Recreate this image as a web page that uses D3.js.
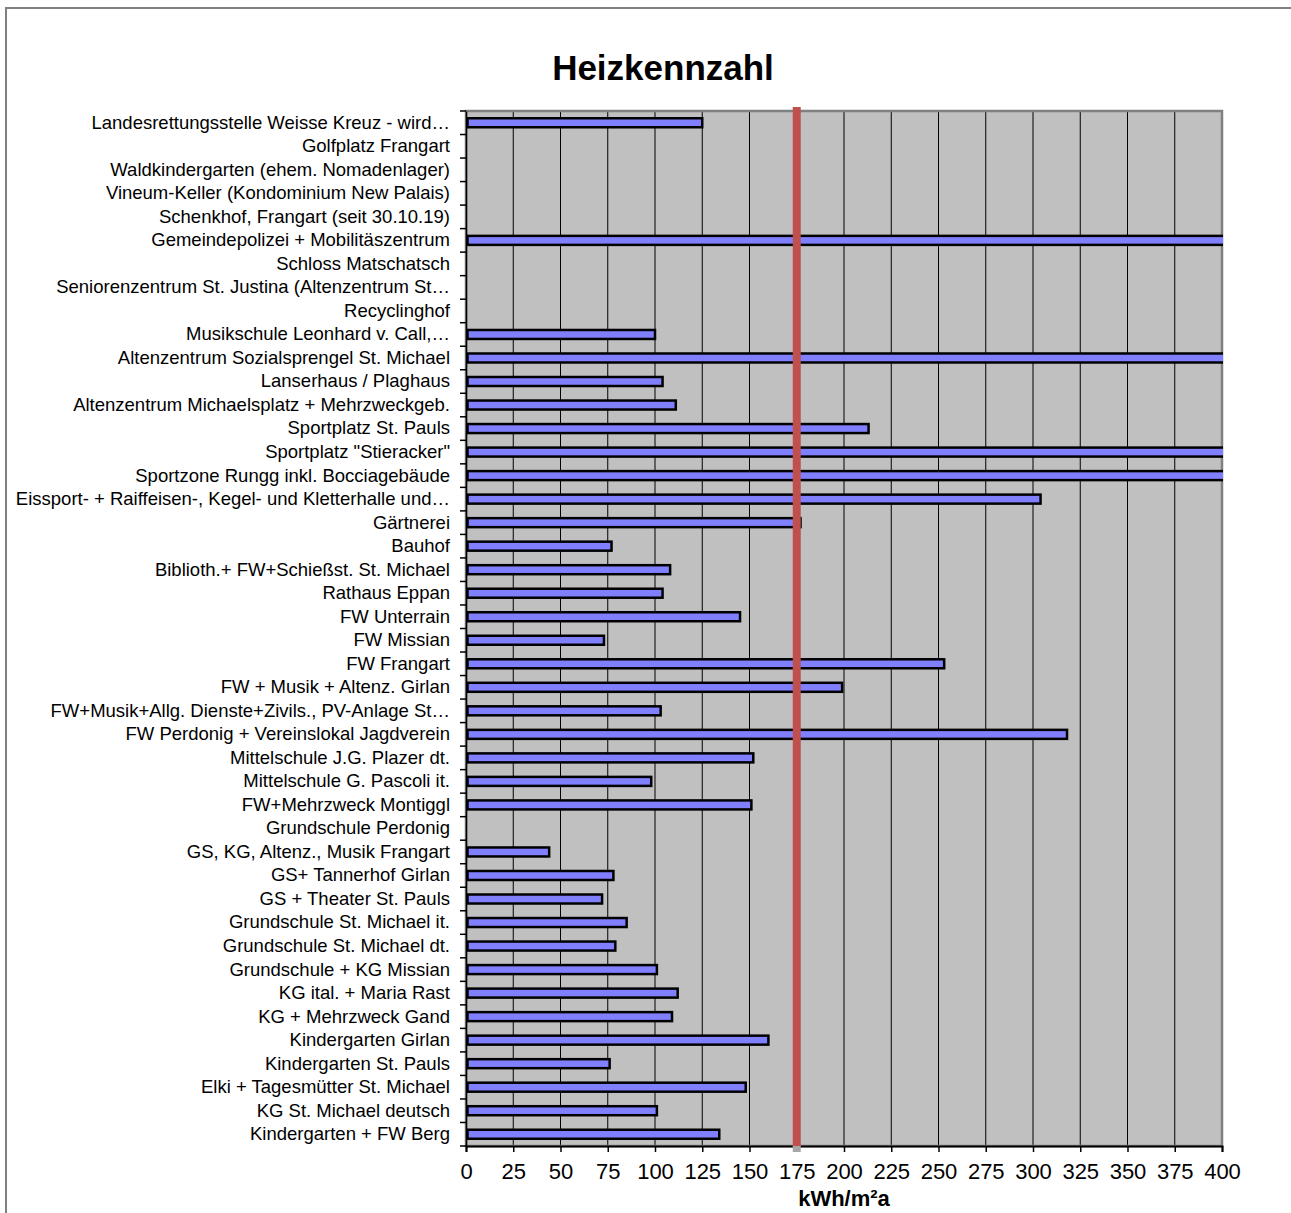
<!DOCTYPE html>
<html>
<head>
<meta charset="utf-8">
<script src="https://cdn.jsdelivr.net/npm/d3@7"></script>
<style>
  html, body { margin: 0; padding: 0; background: #fff; }
  svg { display: block; font-family: "Liberation Sans", Arial, sans-serif; }
</style>
</head>
<body>
<div id="chart"></div>
<script>
"use strict";

// ---------------------------------------------------------------------------
// Data
// ---------------------------------------------------------------------------

const categories = [
  "Landesrettungsstelle Weisse Kreuz - wird…",
  "Golfplatz Frangart",
  "Waldkindergarten (ehem. Nomadenlager)",
  "Vineum-Keller (Kondominium New Palais)",
  "Schenkhof, Frangart (seit 30.10.19)",
  "Gemeindepolizei + Mobilitäszentrum",
  "Schloss Matschatsch",
  "Seniorenzentrum St. Justina (Altenzentrum St…",
  "Recyclinghof",
  "Musikschule Leonhard v. Call,…",
  "Altenzentrum Sozialsprengel St. Michael",
  "Lanserhaus / Plaghaus",
  "Altenzentrum Michaelsplatz + Mehrzweckgeb.",
  "Sportplatz St. Pauls",
  "Sportplatz \"Stieracker\"",
  "Sportzone Rungg inkl. Bocciagebäude",
  "Eissport- + Raiffeisen-, Kegel- und Kletterhalle und…",
  "Gärtnerei",
  "Bauhof",
  "Biblioth.+ FW+Schießst. St. Michael",
  "Rathaus Eppan",
  "FW Unterrain",
  "FW Missian",
  "FW Frangart",
  "FW  + Musik + Altenz. Girlan",
  "FW+Musik+Allg. Dienste+Zivils., PV-Anlage  St…",
  "FW Perdonig + Vereinslokal Jagdverein",
  "Mittelschule J.G. Plazer dt.",
  "Mittelschule G. Pascoli it.",
  "FW+Mehrzweck Montiggl",
  "Grundschule Perdonig",
  "GS, KG, Altenz., Musik Frangart",
  "GS+ Tannerhof Girlan",
  "GS + Theater St. Pauls",
  "Grundschule St. Michael it.",
  "Grundschule St. Michael dt.",
  "Grundschule + KG Missian",
  "KG ital. +  Maria Rast",
  "KG +  Mehrzweck Gand",
  "Kindergarten Girlan",
  "Kindergarten St. Pauls",
  "Elki + Tagesmütter  St. Michael",
  "KG St. Michael deutsch",
  "Kindergarten + FW Berg"
];

// values beyond 400 run off the axis in the original
const values = [
  125, 0, 0, 0, 0, 480, 0, 0, 0, 100,
  470, 104, 111, 213, 520, 450, 304, 177, 77, 108,
  104, 145, 73, 253, 199, 103, 318, 152, 98, 151,
  0, 44, 78, 72, 85, 79, 101, 112, 109, 160,
  76, 148, 101, 134
];

const xTicks = [0, 25, 50, 75, 100, 125, 150, 175, 200, 225, 250, 275, 300, 325, 350, 375, 400];
const limitValue = 175;

// ---------------------------------------------------------------------------
// Layout
// ---------------------------------------------------------------------------

const width = 1291;
const height = 1213;
const margin = { top: 111, right: 69, bottom: 67, left: 466 };
const plotW = width - margin.left - margin.right;
const plotH = height - margin.top - margin.bottom;

const svg = d3.select("#chart")
  .append("svg")
  .attr("width", width)
  .attr("height", height);

// outer chart border
svg.append("rect")
  .attr("x", 6).attr("y", 8)
  .attr("width", width + 20).attr("height", height + 20)
  .attr("fill", "none")
  .attr("stroke", "#808080")
  .attr("stroke-width", 2);

svg.append("text")
  .attr("x", 663).attr("y", 80)
  .attr("text-anchor", "middle")
  .attr("font-size", "35px")
  .attr("font-weight", "bold")
  .text("Heizkennzahl");

const g = svg.append("g")
  .attr("transform", `translate(${margin.left},${margin.top})`);

const x = d3.scaleLinear().domain([0, 400]).range([0, plotW]);
const y = d3.scaleBand().domain(categories).range([0, plotH]);

// plot background
g.append("rect")
  .attr("width", plotW).attr("height", plotH)
  .attr("fill", "#c0c0c0");

// vertical grid lines
g.append("g")
  .selectAll("line")
  .data(xTicks.slice(1, -1))
  .join("line")
  .attr("x1", (d) => x(d)).attr("x2", (d) => x(d))
  .attr("y1", 0).attr("y2", plotH)
  .attr("stroke", "#000")
  .attr("stroke-width", 1);

// plot frame
g.append("rect")
  .attr("width", plotW).attr("height", plotH)
  .attr("fill", "none")
  .attr("stroke", "#808080")
  .attr("stroke-width", 2.5);

// bars
g.append("clipPath").attr("id", "plotclip")
  .append("rect").attr("x", -2).attr("y", 0).attr("width", plotW + 3).attr("height", plotH);

const barH = 9;
g.append("g")
  .attr("clip-path", "url(#plotclip)")
  .selectAll("rect")
  .data(categories.map((c, i) => ({ c, v: values[i] })).filter((d) => d.v > 0))
  .join("rect")
  .attr("x", x(0) + 1.5)
  .attr("y", (d) => y(d.c) + y.bandwidth() / 2 - barH / 2)
  .attr("width", (d) => Math.min(x(d.v), plotW + 10) - 1.5)
  .attr("height", barH)
  .attr("fill", "#8080ff")
  .attr("stroke", "#000")
  .attr("stroke-width", 2.5);

// left axis
const yAxis = g.append("g")
  .call(d3.axisLeft(y).tickSize(0).tickPadding(16));
yAxis.select(".domain").attr("stroke", "#000").attr("stroke-width", 1.5);
yAxis.selectAll("text")
  .attr("font-size", "18.5px")
  .attr("fill", "#000")
  .attr("font-family", "Liberation Sans, Arial, sans-serif");

// tick marks between categories
g.append("g")
  .selectAll("line")
  .data(d3.range(categories.length + 1))
  .join("line")
  .attr("x1", -6).attr("x2", 0)
  .attr("y1", (i) => i * y.step()).attr("y2", (i) => i * y.step())
  .attr("stroke", "#000")
  .attr("stroke-width", 1.5);

// bottom axis
const xAxis = g.append("g")
  .attr("transform", `translate(0,${plotH})`)
  .call(d3.axisBottom(x).tickValues(xTicks).tickSize(6).tickPadding(11).tickFormat(d3.format("d")));
xAxis.select(".domain").attr("stroke", "#000").attr("stroke-width", 2);
xAxis.selectAll("line").attr("stroke", "#000").attr("stroke-width", 1.5);
xAxis.selectAll("text")
  .attr("font-size", "22px")
  .attr("fill", "#000")
  .attr("font-family", "Liberation Sans, Arial, sans-serif");

// limit line
g.append("rect")
  .attr("x", x(limitValue) - 4).attr("y", plotH - 1)
  .attr("width", 8).attr("height", 7)
  .attr("fill", "#a6a6a6");
g.append("line")
  .attr("x1", x(limitValue)).attr("x2", x(limitValue))
  .attr("y1", -4).attr("y2", plotH)
  .attr("stroke", "#c0504d")
  .attr("stroke-width", 8);

svg.append("text")
  .attr("x", margin.left + plotW / 2).attr("y", 1206)
  .attr("text-anchor", "middle")
  .attr("font-size", "22px")
  .attr("font-weight", "bold")
  .text("kWh/m²a");
</script>
</body>
</html>
